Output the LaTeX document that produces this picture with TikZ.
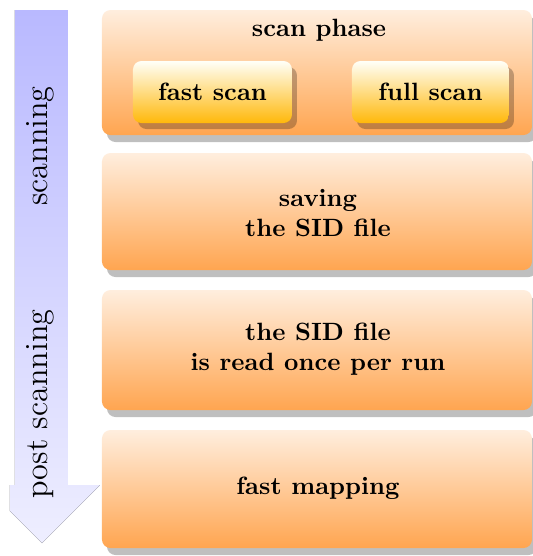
\documentclass[tikz,border=0pt]{standalone}
\usetikzlibrary{shadows}
\definecolor{arrowTop}{RGB}{185,185,255}
\definecolor{arrowBot}{RGB}{238,238,255}
\definecolor{boxTop}{RGB}{255,238,222}
\definecolor{boxBot}{RGB}{255,165,80}
\definecolor{innerTop}{RGB}{255,255,248}
\definecolor{innerBot}{RGB}{255,184,10}
\tikzset{
  bigbox/.style={rectangle, rounded corners=3.4pt, top color=boxTop, bottom color=boxBot,
    minimum width=172pt, inner sep=0pt,
    drop shadow={shadow xshift=2pt, shadow yshift=-2.8pt, fill=black, opacity=0.25}},
  smallbox/.style={rectangle, rounded corners=3.4pt, top color=innerTop, bottom color=innerBot,
    minimum height=24.8pt, inner sep=0pt, font=\bfseries,
    drop shadow={shadow xshift=2pt, shadow yshift=-2.4pt, fill=black, opacity=0.25}},
  boxtext/.style={font=\bfseries, align=center, inner sep=0pt},
  sidetext/.style={rotate=90, font=\fontsize{12.9}{15}\selectfont, inner sep=0pt}
}
\begin{document}
\begin{tikzpicture}[x=0.4pt, y=-0.4pt]
\clip (0,0) rectangle (533,556);
% side arrow
\fill[top color=arrowTop, bottom color=arrowBot]
  (15,10) -- (68,10) -- (68,485) -- (100,485) -- (42,543) -- (10,511) -- (10,485) -- (15,485) -- cycle;
\node[sidetext] (scanning) at (40,146) {scanning};
\node[sidetext] (post) at (40,404) {post scanning};
% boxes
\node[bigbox, minimum height=50pt] (b1) at (317,72.5) {};
\node[bigbox, minimum height=46.8pt] (b2) at (317,211.5) {};
\node[bigbox, minimum height=48pt] (b3) at (317,350) {};
\node[bigbox, minimum height=47.2pt] (b4) at (317,489) {};
\node[boxtext] (phase) at (319,30) {scan phase};
\node[smallbox, minimum width=63.6pt] (fast) at (212.5,92) {fast scan};
\node[smallbox, minimum width=62.8pt] (full) at (430.5,92) {full scan};
\node[boxtext] (t2) at (318,213) {saving\\the SID file};
\node[boxtext] (t3) at (318,349) {the SID file\\is read once per run};
\node[boxtext] (t4) at (318,488) {fast mapping};
\end{tikzpicture}
\end{document}
